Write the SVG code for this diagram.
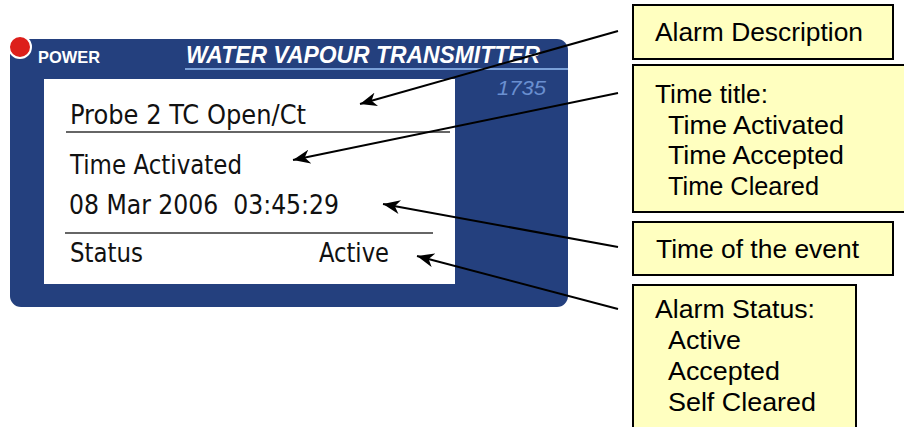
<svg xmlns="http://www.w3.org/2000/svg" width="904" height="427" viewBox="0 0 904 427">
<style>
.scr{font-family:"DejaVu Sans Condensed","DejaVu Sans",sans-serif;font-size:26px;fill:#111}
.lbl{font-family:"Liberation Sans",Arial,sans-serif;font-size:25px;fill:#000}
.box{fill:#ffffc0;stroke:#000;stroke-width:2}
.arrow{stroke:#000;stroke-width:2;fill:none;marker-end:url(#ah)}
.sep{stroke:#333;stroke-width:1.5}
</style>
<defs>
<marker id="ah" markerUnits="userSpaceOnUse" markerWidth="18" markerHeight="14" refX="17" refY="7" orient="auto">
<path d="M0,0 L17,7 L0,14 L5,7 z" fill="#000"/>
</marker>
</defs>
<g id="device">
<rect x="10" y="39" width="558" height="268" rx="11" fill="#24407e"/>
<line x1="185" y1="69" x2="568" y2="69" stroke="#7aa0d8" stroke-width="2"/>
<circle cx="20" cy="47" r="11" fill="#dd1f1b" stroke="#fff" stroke-width="2"/>
<text x="38" y="63" font-family="'Liberation Sans',Arial,sans-serif" font-weight="bold" font-size="17" fill="#fff" textLength="62" lengthAdjust="spacingAndGlyphs">POWER</text>
<text x="186" y="63" font-family="'Liberation Sans',Arial,sans-serif" font-weight="bold" font-style="italic" font-size="23" fill="#fff" textLength="354" lengthAdjust="spacingAndGlyphs">WATER VAPOUR TRANSMITTER</text>
<text x="497" y="95" font-family="'Liberation Sans',Arial,sans-serif" font-style="italic" font-size="20" fill="#6a8fd0" textLength="49" lengthAdjust="spacingAndGlyphs">1735</text>
<rect x="44" y="79" width="411" height="205" fill="#fff"/>
<text class="scr" x="70" y="124" textLength="236" lengthAdjust="spacingAndGlyphs">Probe 2 TC Open/Ct</text>
<line class="sep" x1="66" y1="132" x2="450" y2="132"/>
<text class="scr" x="70" y="174" textLength="172" lengthAdjust="spacingAndGlyphs">Time Activated</text>
<text class="scr" x="69" y="214" textLength="270" lengthAdjust="spacingAndGlyphs" xml:space="preserve">08 Mar 2006  03:45:29</text>
<line class="sep" x1="65" y1="233" x2="433" y2="233"/>
<text class="scr" x="70" y="262" textLength="73" lengthAdjust="spacingAndGlyphs">Status</text>
<text class="scr" x="319" y="262" textLength="70" lengthAdjust="spacingAndGlyphs">Active</text>
</g>
<g id="box-alarm-description">
<rect class="box" x="633" y="5" width="260" height="54"/>
<text class="lbl" x="655" y="41" textLength="208" lengthAdjust="spacingAndGlyphs">Alarm Description</text>
</g>
<g id="box-time-title">
<rect class="box" x="633" y="65" width="290" height="147"/>
<text class="lbl" x="655" y="103" textLength="113" lengthAdjust="spacingAndGlyphs">Time title:</text>
<text class="lbl" x="668" y="134" textLength="176" lengthAdjust="spacingAndGlyphs">Time Activated</text>
<text class="lbl" x="668" y="164" textLength="176" lengthAdjust="spacingAndGlyphs">Time Accepted</text>
<text class="lbl" x="668" y="195" textLength="151" lengthAdjust="spacingAndGlyphs">Time Cleared</text>
</g>
<g id="box-time-event">
<rect class="box" x="633" y="222" width="260" height="53"/>
<text class="lbl" x="656" y="258" textLength="203" lengthAdjust="spacingAndGlyphs">Time of the event</text>
</g>
<g id="box-alarm-status">
<rect class="box" x="633" y="285" width="223" height="160"/>
<text class="lbl" x="655" y="318" textLength="160" lengthAdjust="spacingAndGlyphs">Alarm Status:</text>
<text class="lbl" x="668" y="349" textLength="73" lengthAdjust="spacingAndGlyphs">Active</text>
<text class="lbl" x="668" y="380" textLength="112" lengthAdjust="spacingAndGlyphs">Accepted</text>
<text class="lbl" x="668" y="411" textLength="148" lengthAdjust="spacingAndGlyphs">Self Cleared</text>
</g>
<g id="connectors">
<line class="arrow" x1="618" y1="31" x2="360" y2="104"/>
<line class="arrow" x1="618" y1="93" x2="293" y2="160"/>
<line class="arrow" x1="618" y1="247" x2="383" y2="204"/>
<line class="arrow" x1="618" y1="309" x2="417" y2="256"/>
</g>
</svg>
